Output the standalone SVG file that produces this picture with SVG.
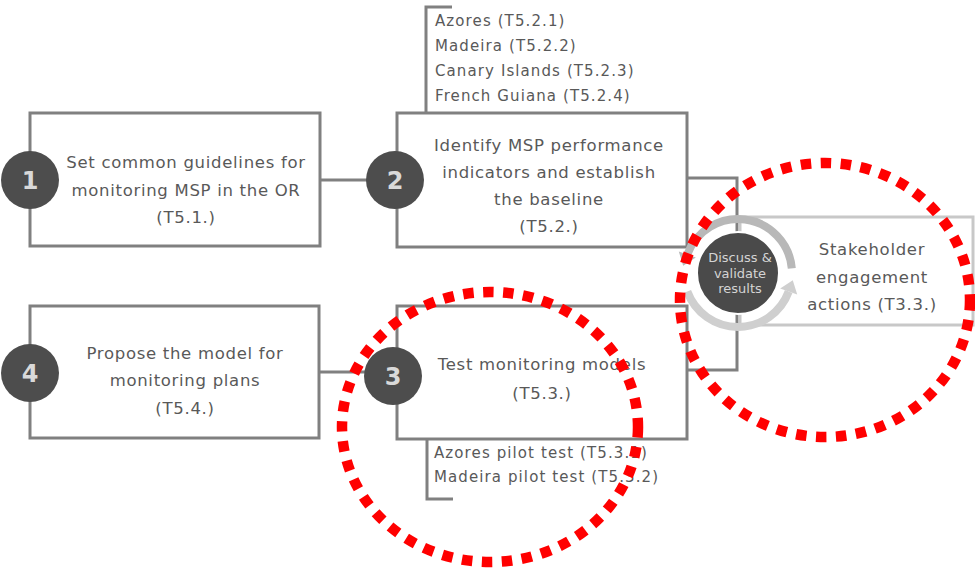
<svg xmlns="http://www.w3.org/2000/svg" width="975" height="571" viewBox="0 0 975 571">
<style>
.box{fill:#fff;stroke:#808080;stroke-width:3}
.ln{fill:none;stroke:#808080;stroke-width:3}
.num{fill:#4d4d4d}
.numt{font-family:"DejaVu Sans",sans-serif;font-weight:bold;font-size:24px;fill:#d9d9d9;text-anchor:middle}
.t{font-family:"DejaVu Sans",sans-serif;font-size:16.5px;fill:#595959;text-anchor:middle;letter-spacing:0.7px}
.s{font-family:"DejaVu Sans",sans-serif;font-size:15px;fill:#595959;letter-spacing:1.1px}
.d{font-family:"DejaVu Sans",sans-serif;font-size:13px;fill:#d4d4d4;text-anchor:middle}
.red{fill:none;stroke:#ff0000;stroke-width:10.5;stroke-dasharray:10.5 9.5}
</style>
<rect width="975" height="571" fill="#fff"/>
<g id="connectors">
<line class="ln" x1="320" y1="180" x2="370" y2="180"/>
<line class="ln" x1="320" y1="372" x2="370" y2="372"/>
<polyline class="ln" points="687,178 737,178 737,370 687,370"/>
<polyline class="ln" points="452,7 426,7 426,113"/>
<polyline class="ln" points="427,439 427,499 453,499"/>
</g>
<g id="node1">
<rect class="box" x="30" y="113" width="290" height="133"/>
<circle class="num" cx="30" cy="180" r="29"/>
<text class="numt" x="30" y="189">1</text>
<text class="t" x="186" y="168">Set common guidelines for</text>
<text class="t" x="186" y="196">monitoring MSP in the OR</text>
<text class="t" x="186" y="223">(T5.1.)</text>
</g>
<g id="node2">
<rect class="box" x="397" y="113" width="290" height="134"/>
<circle class="num" cx="395" cy="180" r="29"/>
<text class="numt" x="395" y="189">2</text>
<text class="t" x="549" y="151">Identify MSP performance</text>
<text class="t" x="549" y="178">indicators and establish</text>
<text class="t" x="549" y="205">the baseline</text>
<text class="t" x="549" y="232">(T5.2.)</text>
</g>
<g id="list2">
<text class="s" x="435" y="26">Azores (T5.2.1)</text>
<text class="s" x="435" y="51">Madeira (T5.2.2)</text>
<text class="s" x="435" y="76">Canary Islands (T5.2.3)</text>
<text class="s" x="435" y="101">French Guiana (T5.2.4)</text>
</g>
<g id="node3">
<rect class="box" x="397" y="306" width="290" height="133"/>
<circle class="num" cx="393" cy="376" r="29"/>
<text class="numt" x="393" y="385">3</text>
<text class="t" x="542" y="370">Test monitoring models</text>
<text class="t" x="542" y="399">(T5.3.)</text>
</g>
<g id="list3">
<text class="s" x="434" y="458">Azores pilot test (T5.3.1)</text>
<text class="s" x="434" y="482">Madeira pilot test (T5.3.2)</text>
</g>
<g id="node4">
<rect class="box" x="30" y="306" width="289" height="132"/>
<circle class="num" cx="30" cy="373" r="29"/>
<text class="numt" x="30" y="382">4</text>
<text class="t" x="185" y="359">Propose the model for</text>
<text class="t" x="185" y="386">monitoring plans</text>
<text class="t" x="185" y="414">(T5.4.)</text>
</g>
<g id="stakeholder">
<rect x="740" y="217" width="233" height="108" fill="#fff" stroke="#c8c8c8" stroke-width="3"/>
<text class="t" x="872" y="255">Stakeholder</text>
<text class="t" x="872" y="283">engagement</text>
<text class="t" x="872" y="310">actions (T3.3.)</text>
</g>
<g id="discuss">
<path d="M 791.8 268.3 A 54 54 0 0 0 687.3 254.5" fill="none" stroke="#b8b8b8" stroke-width="8"/>
<polygon points="678.8,251.4 695.8,257.6 683.2,265.8" fill="#b8b8b8"/>
<path d="M 687.3 291.5 A 54 54 0 0 0 788.7 291.5" fill="none" stroke="#cfcfcf" stroke-width="8"/>
<polygon points="797.2,294.6 780.2,288.4 792.8,280.2" fill="#cfcfcf"/>
<circle cx="738" cy="273" r="41" fill="#4a4a4a" stroke="#fff" stroke-width="2"/>
<text class="d" x="740" y="262">Discuss &amp;</text>
<text class="d" x="740" y="278">validate</text>
<text class="d" x="740" y="293">results</text>
</g>
<g id="highlights">
<ellipse class="red" cx="490" cy="427" rx="148" ry="135"/>
<ellipse class="red" cx="825" cy="300" rx="145" ry="137"/>
</g>
</svg>
